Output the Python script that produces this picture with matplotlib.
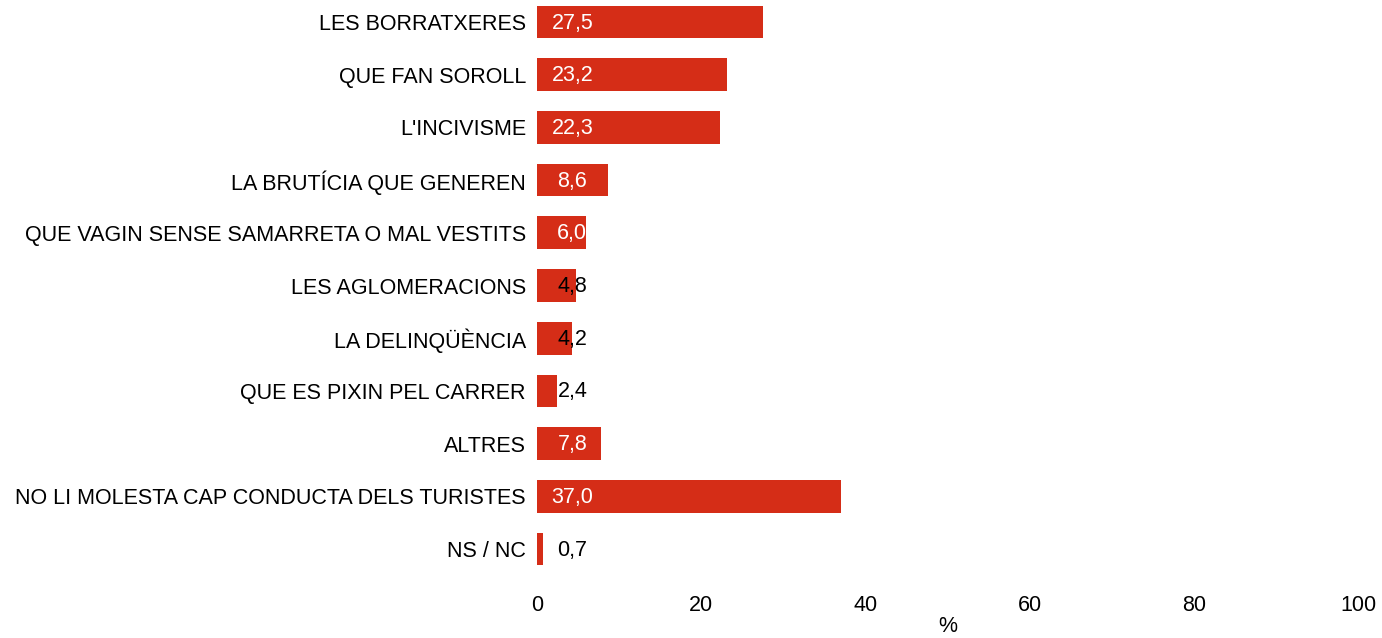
import matplotlib.pyplot as plt

plt.rcParams['font.family'] = ['Liberation Sans', 'DejaVu Sans']

categories = [
    'LES BORRATXERES',
    'QUE FAN SOROLL',
    "L'INCIVISME",
    'LA BRUTÍCIA QUE GENEREN',
    'QUE VAGIN SENSE SAMARRETA O MAL VESTITS',
    'LES AGLOMERACIONS',
    'LA DELINQÜÈNCIA',
    'QUE ES PIXIN PEL CARRER',
    'ALTRES',
    'NO LI MOLESTA CAP CONDUCTA DELS TURISTES',
    'NS / NC',
]
values = [27.5, 23.2, 22.3, 8.6, 6.0, 4.8, 4.2, 2.4, 7.8, 37.0, 0.7]
xticks = [0, 20, 40, 60, 80, 100]

bar_color = '#D52D17'
fs = 15.5

fig = plt.figure(figsize=(13.82, 6.38), dpi=100)
ax = fig.add_axes([0.3886, 0.0982, 0.5940, 0.9086])

ypos = list(range(len(categories)))
ax.barh(ypos, values, height=0.62, color=bar_color)

for y, v in zip(ypos, values):
    label = f'{v:.1f}'.replace('.', ',')
    color = 'white' if v >= 6 else 'black'
    ax.text(4.3, y + 0.02, label, ha='center', va='center', fontsize=fs, color=color)

ax.set_xlim(0, 100)
ax.set_ylim(len(categories) - 0.5, -0.5)
ax.set_yticks(ypos)
ax.set_yticklabels(categories, fontsize=fs)
ax.set_xticks(xticks)
ax.set_xticklabels([str(t) for t in xticks], fontsize=fs)
ax.tick_params(axis='y', length=0, pad=8)
ax.tick_params(axis='x', length=0, pad=14)
ax.set_xlabel('%', fontsize=fs, labelpad=0)

for s in ax.spines.values():
    s.set_visible(False)

plt.savefig('out.png', dpi=100)
